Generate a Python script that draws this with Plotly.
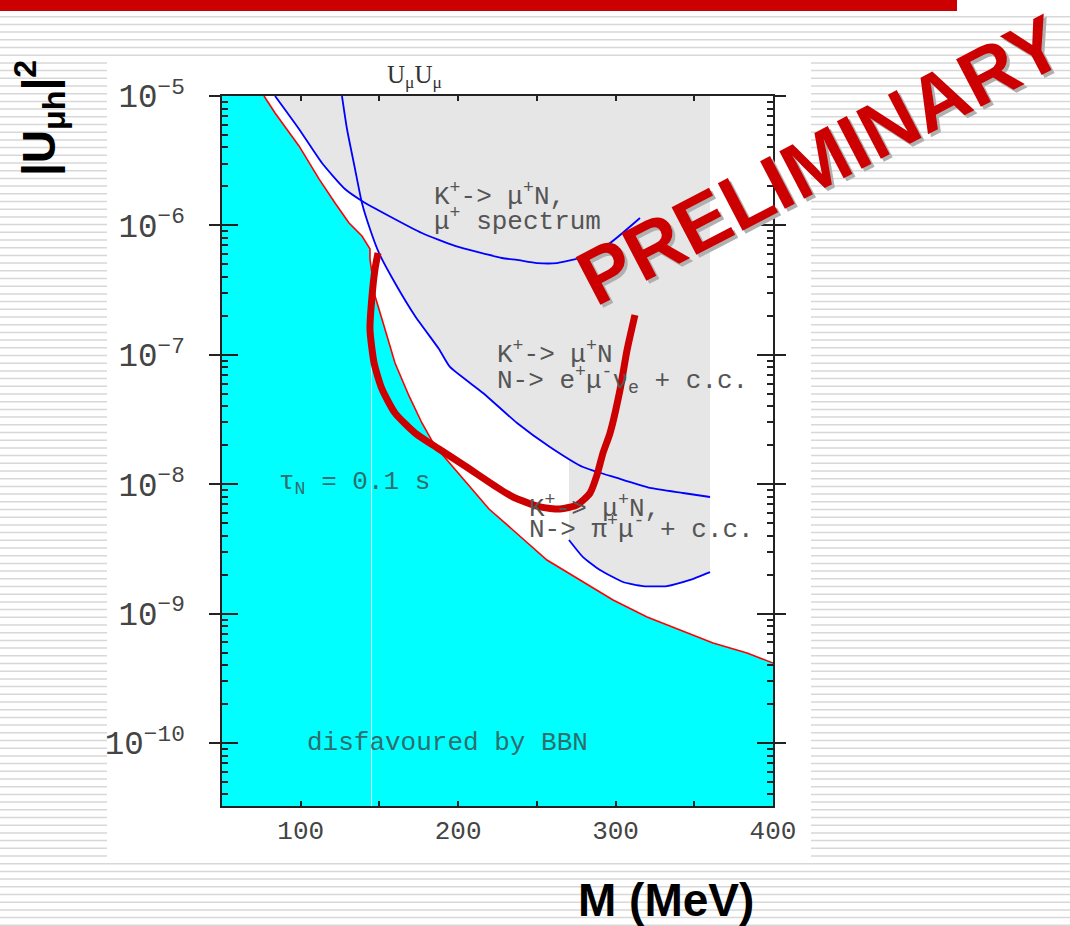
import numpy as np
import plotly.graph_objects as go

# ---------------- data (M in MeV, log10 |U|^2) ----------------
bbn_m = [76.7, 83.7, 98.9, 111.6, 121.8, 130.7, 138.9, 144.0, 144.0, 147.2, 153.5, 159.9,
         168.8, 177.0, 185.3, 198.0, 210.7, 219.6, 234.8, 256.4, 277.4, 298.4, 320.0,
         340.9, 361.9, 383.5, 400.0]
bbn_L = [-5.0, -5.131, -5.386, -5.641, -5.827, -5.981, -6.082, -6.182, -6.26, -6.546, -6.801,
         -7.063, -7.318, -7.527, -7.705, -7.883, -8.068, -8.192, -8.354, -8.586, -8.74,
         -8.895, -9.026, -9.127, -9.227, -9.304, -9.382]

# K+ -> mu+ N, mu+ spectrum
spec_m = [83.7, 98.9, 113.5, 128.1, 138.9, 156.1, 177.0, 198.0, 227.9, 237.4, 250.1,
          262.8, 279.3, 296.5, 315.5]
spec_L = [-5.0, -5.255, -5.518, -5.719, -5.811, -5.927, -6.059, -6.159, -6.252, -6.267,
          -6.291, -6.291, -6.244, -6.136, -5.943]

# K+ -> mu+ N, N -> e+ mu- nu_e + c.c.
emu_m = [126.2, 129.4, 134.5, 138.9, 144.0, 149.7, 159.9, 172.6, 187.8, 194.8, 215.8,
         237.4, 258.3, 279.3, 300.9, 321.9, 342.8, 360.0]
emu_L = [-5.0, -5.255, -5.564, -5.827, -6.028, -6.213, -6.445, -6.700, -6.955, -7.094,
         -7.295, -7.527, -7.712, -7.867, -7.952, -8.029, -8.068, -8.099]

# K+ -> mu+ N, N -> pi+ mu- + c.c.
pimu_m = [270.4, 279.3, 290.1, 304.7, 317.4, 332.7, 347.3, 360.0]
pimu_L = [-8.431, -8.563, -8.663, -8.756, -8.787, -8.787, -8.740, -8.679]

# hand-drawn preliminary curve
pre_m = [149.1, 147.2, 145.3, 144.0, 146.6, 151.6, 159.9, 172.6, 187.8, 204.4, 223.4,
         234.8, 252.0, 264.7, 275.5, 283.8, 288.2, 292.0, 296.5, 302.8, 307.3, 312.3]
pre_L = [-6.213, -6.337, -6.546, -6.801, -7.063, -7.264, -7.450, -7.604, -7.728, -7.859,
         -8.014, -8.099, -8.176, -8.192, -8.161, -8.068, -7.929, -7.759, -7.604, -7.272,
         -6.963, -6.692]

tau_line_m = 145.0          # tau_N = 0.1 s line
x_range = [50, 400]
y_range = [-10.487, -5.0]
x_ticks = [100, 200, 300, 400]

# ---------------- helpers ----------------
W, H = 1070, 926
L_M, R_M, T_M, B_M = 222, 297, 96, 120
PW, PH = W - L_M - R_M, H - T_M - B_M


def px(x):
    return (x - L_M) / PW


def py(y):
    return (H - B_M - y) / PH


def p10(a):
    return [10 ** v for v in a]


fig = go.Figure()

# gray excluded region (envelope of the blue curves)
spec_m_a, spec_L_a = np.array(spec_m), np.array(spec_L)
emu_m_a, emu_L_a = np.array(emu_m), np.array(emu_L)
xc = 138.9
top = -4.95
gx = [spec_m[0]] + list(spec_m_a[spec_m_a <= xc])
gy = [top] + list(spec_L_a[spec_m_a <= xc])
sel = (emu_m_a > xc) & (emu_m_a < pimu_m[0])
gx += list(emu_m_a[sel]) + [pimu_m[0]]
gy += list(emu_L_a[sel]) + [float(np.interp(pimu_m[0], emu_m, emu_L))]
gx += pimu_m + [pimu_m[-1]]
gy += pimu_L + [top]
fig.add_trace(go.Scatter(x=gx, y=p10(gy), mode="lines", fill="toself",
                         fillcolor="#e6e6e6", line=dict(width=0), hoverinfo="skip"))

# cyan BBN-disfavoured region
cx = [x_range[0]] + bbn_m + [x_range[1], x_range[0]]
cy = [top] + bbn_L + [-11.5, -11.5]
fig.add_trace(go.Scatter(x=cx, y=p10(cy), mode="lines", fill="toself",
                         fillcolor="#00ffff", line=dict(width=0), hoverinfo="skip"))

# thin white tau line
fig.add_trace(go.Scatter(x=[tau_line_m, tau_line_m],
                         y=[10 ** float(np.interp(tau_line_m, bbn_m[8:], bbn_L[8:])), 10 ** -11.5],
                         mode="lines", line=dict(color="rgba(255,255,255,0.8)", width=1),
                         hoverinfo="skip"))

# BBN boundary
fig.add_trace(go.Scatter(x=bbn_m, y=p10(bbn_L), mode="lines",
                         line=dict(color="#ff0000", width=1.6), hoverinfo="skip"))

# blue limits
for mm, ll in [(spec_m, spec_L), (emu_m, emu_L), (pimu_m, pimu_L)]:
    fig.add_trace(go.Scatter(x=mm, y=p10(ll), mode="lines",
                             line=dict(color="#0000ff", width=1.8, shape="spline", smoothing=0.5),
                             hoverinfo="skip"))

# hand drawn preliminary curve
fig.add_trace(go.Scatter(x=pre_m, y=p10(pre_L), mode="lines",
                         line=dict(color="#cc0000", width=7, shape="spline", smoothing=0.6),
                         hoverinfo="skip"))

# dummy trace for the overlay axis (crossing major ticks)
fig.add_trace(go.Scatter(x=bbn_m, y=p10(bbn_L), yaxis="y2", mode="lines",
                         line=dict(width=0), opacity=0, hoverinfo="skip"))

mono = "Liberation Mono"
axis_font = dict(family=mono, size=26, color="#444444")

fig.update_layout(
    width=W, height=H, showlegend=False,
    margin=dict(l=L_M, r=R_M, t=T_M, b=B_M),
    paper_bgcolor="white", plot_bgcolor="white",
    xaxis=dict(range=x_range, tickvals=x_ticks, ticks="inside", ticklen=5,
               tickcolor="#222", tickwidth=1.5,
               minor=dict(dtick=50, tick0=0, ticks="inside", ticklen=5, tickcolor="#222"),
               showline=True, linecolor="#222", linewidth=2, mirror="ticks",
               showgrid=False, zeroline=False, tickfont=axis_font),
    yaxis=dict(type="log", range=y_range, dtick=1, exponentformat="power",
               ticks="inside", ticklen=16, tickcolor="#222", tickwidth=1.5,
               minor=dict(dtick="D1", ticks="inside", ticklen=6, tickcolor="#222"),
               showline=True, linecolor="#222", linewidth=2, mirror="ticks",
               showgrid=False, zeroline=False, tickfont=axis_font, ticklabelstandoff=30),
    yaxis2=dict(type="log", range=y_range, dtick=1, overlaying="y", side="left",
                ticks="outside", ticklen=12, tickcolor="#222", tickwidth=1.5,
                showticklabels=False, showline=False, showgrid=False, zeroline=False,
                mirror="ticks"),
)

# ---------------- slide decoration ----------------
stripes = []
y = 16.7
while y < H:
    stripes.append(f"M{px(0)},{py(y)} L{px(W)},{py(y)}")
    y += 7.7
shapes = [
    dict(type="path", xref="paper", yref="paper", path=" ".join(stripes),
         line=dict(color="#d8d8d8", width=1.5), layer="below"),
    dict(type="rect", xref="paper", yref="paper", x0=px(107), x1=px(811), y0=py(62), y1=py(860),
         fillcolor="white", line=dict(width=0), layer="below"),
    dict(type="rect", xref="paper", yref="paper", x0=px(0), x1=px(957), y0=py(0), y1=py(11),
         fillcolor="#cc0000", line=dict(width=0), layer="below"),
]
fig.update_layout(shapes=shapes)

ann = []
txt = dict(family=mono, size=26, color="#555555")
cyan_txt = dict(family=mono, size=26, color="#2f6e6e")


def add_text(x, yl, t, font):
    ann.append(dict(x=x, y=yl, xref="x", yref="y", text=t, showarrow=False,
                    xanchor="left", yanchor="middle", font=font))


add_text(183.4, -5.765, "K<sup>+</sup>-> μ<sup>+</sup>N,", txt)
add_text(183.4, -5.958, "μ<sup>+</sup> spectrum", txt)
add_text(223.4, -6.986, "K<sup>+</sup>-> μ<sup>+</sup>N", txt)
add_text(223.4, -7.195, "N-> e<sup>+</sup>μ<sup>-</sup>ν<sub>e</sub> + c.c.", txt)
add_text(243.7, -8.176, "K<sup>+</sup>-> μ<sup>+</sup>N,", txt)
add_text(243.7, -8.339, "N-> π<sup>+</sup>μ<sup>-</sup> + c.c.", txt)
add_text(85.0, -7.99, "τ<sub>N</sub> = 0.1 s", cyan_txt)
add_text(102.7, -10.0, "disfavoured by BBN", cyan_txt)


def add_paper(x, y, t, font, angle=0, dx=0, dy=0):
    ann.append(dict(x=px(x), y=py(y), xref="paper", yref="paper", showarrow=False,
                    xanchor="center", yanchor="middle", textangle=angle,
                    xshift=dx, yshift=dy, text=t, font=font))


# panel title
add_paper(414, 76, "U<sub>μ</sub>U<sub>μ</sub>",
          dict(family="Liberation Serif", size=25, color="#333"))
# slide axis titles
add_paper(666, 900, "<b>M (MeV)</b>", dict(family="Liberation Sans", size=46, color="black"))
add_paper(40, 118, "<b>|U<sub>μh</sub>|<sup>2</sup></b>",
          dict(family="Liberation Sans", size=46, color="black"), angle=-90)
# PRELIMINARY stamp with shadow
for col, dx, dy in [("#b0b0b0", 3, -3), ("#cc0000", 0, 0)]:
    add_paper(820, 160, "<b>PRELIMINARY</b>",
              dict(family="Liberation Sans", size=78, color=col), angle=-27.5, dx=dx, dy=dy)
fig.update_layout(annotations=ann)

fig.write_html("out.html", config={"displayModeBar": False},
               post_script="document.body.style.margin='0';")
